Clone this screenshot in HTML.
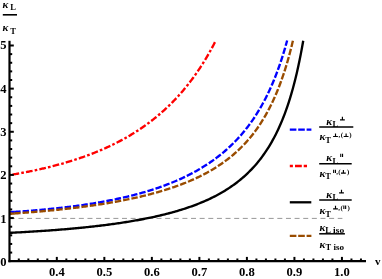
<!DOCTYPE html>
<html><head><meta charset="utf-8"><title>plot</title>
<style>
html,body{margin:0;padding:0;background:#fff;}
body{width:382px;height:279px;overflow:hidden;}
svg{display:block;filter:blur(0.4px);font-family:"Liberation Serif",serif;font-weight:bold;}
.k{font-style:italic;font-size:11px;}
.s{font-size:8.5px;}
.u{font-size:7px;}
</style></head><body>
<svg width="382" height="279" viewBox="0 0 382 279">
<rect width="382" height="279" fill="#fff"/>
<!-- gray reference line -->
<g stroke="#989898" stroke-width="1">
<line x1="9.8" y1="218.4" x2="342.4" y2="218.4" stroke-dasharray="5 3.63"/>
</g>
<!-- curves -->
<g fill="none" stroke-linejoin="round" stroke-width="2.35">
<path d="M9.30,212.24 L10.52,212.16 L11.74,212.08 L12.96,212.01 L14.18,211.93 L15.40,211.84 L16.62,211.76 L17.84,211.68 L19.06,211.59 L20.28,211.51 L21.50,211.42 L22.72,211.33 L23.94,211.24 L25.16,211.15 L26.38,211.06 L27.60,210.96 L28.82,210.87 L30.04,210.77 L31.26,210.67 L32.48,210.57 L33.70,210.47 L34.92,210.37 L36.14,210.26 L37.36,210.16 L38.58,210.05 L39.80,209.94 L41.02,209.83 L42.24,209.72 L43.46,209.61 L44.68,209.50 L45.90,209.38 L47.12,209.26 L48.34,209.14 L49.56,209.02 L50.78,208.90 L52.00,208.77 L53.22,208.65 L54.44,208.52 L55.66,208.39 L56.88,208.26 L58.10,208.12 L59.32,207.99 L60.54,207.85 L61.76,207.71 L62.98,207.57 L64.20,207.43 L65.42,207.29 L66.64,207.14 L67.86,206.99 L69.08,206.84 L70.30,206.69 L71.52,206.53 L72.74,206.37 L73.96,206.21 L75.18,206.05 L76.40,205.89 L77.62,205.72 L78.84,205.56 L80.07,205.38 L81.29,205.21 L82.51,205.04 L83.73,204.86 L84.95,204.68 L86.17,204.50 L87.39,204.31 L88.61,204.12 L89.83,203.93 L91.05,203.74 L92.27,203.55 L93.49,203.35 L94.71,203.15 L95.93,202.94 L97.15,202.74 L98.37,202.53 L99.59,202.32 L100.81,202.10 L102.03,201.88 L103.25,201.66 L104.47,201.44 L105.69,201.21 L106.91,200.98 L108.13,200.75 L109.35,200.51 L110.57,200.27 L111.79,200.03 L113.01,199.78 L114.23,199.53 L115.45,199.28 L116.67,199.02 L117.89,198.76 L119.11,198.50 L120.33,198.23 L121.55,197.96 L122.77,197.69 L123.99,197.41 L125.21,197.12 L126.43,196.84 L127.65,196.55 L128.87,196.25 L130.09,195.95 L131.31,195.65 L132.53,195.34 L133.75,195.03 L134.97,194.72 L136.19,194.39 L137.41,194.07 L138.63,193.74 L139.85,193.41 L141.07,193.07 L142.29,192.72 L143.51,192.37 L144.73,192.02 L145.95,191.66 L147.17,191.30 L148.39,190.93 L149.61,190.55 L150.83,190.17 L152.05,189.78 L153.27,189.39 L154.49,188.99 L155.71,188.59 L156.93,188.18 L158.15,187.77 L159.37,187.35 L160.59,186.92 L161.81,186.48 L163.03,186.04 L164.25,185.60 L165.47,185.14 L166.69,184.68 L167.91,184.21 L169.13,183.74 L170.35,183.26 L171.57,182.77 L172.79,182.27 L174.01,181.76 L175.23,181.25 L176.45,180.73 L177.67,180.20 L178.89,179.66 L180.11,179.12 L181.33,178.56 L182.55,178.00 L183.77,177.43 L184.99,176.85 L186.21,176.25 L187.43,175.65 L188.65,175.04 L189.87,174.42 L191.09,173.79 L192.31,173.15 L193.53,172.50 L194.75,171.83 L195.97,171.16 L197.19,170.47 L198.41,169.77 L199.63,169.06 L200.85,168.34 L202.07,167.61 L203.29,166.86 L204.51,166.10 L205.73,165.32 L206.95,164.53 L208.17,163.73 L209.39,162.91 L210.61,162.08 L211.83,161.23 L213.05,160.37 L214.27,159.49 L215.49,158.59 L216.71,157.68 L217.93,156.75 L219.15,155.80 L220.37,154.83 L221.60,153.84 L222.82,152.83 L224.04,151.81 L225.26,150.76 L226.48,149.69 L227.70,148.60 L228.92,147.48 L230.14,146.35 L231.36,145.18 L232.58,144.00 L233.80,142.78 L235.02,141.54 L236.24,140.28 L237.46,138.98 L238.68,137.66 L239.90,136.30 L241.12,134.92 L242.34,133.50 L243.56,132.05 L244.78,130.56 L246.00,129.04 L247.22,127.48 L248.44,125.88 L249.66,124.24 L250.88,122.56 L252.10,120.83 L253.32,119.06 L254.54,117.25 L255.76,115.38 L256.98,113.46 L258.20,111.49 L259.42,109.47 L260.64,107.39 L261.86,105.24 L263.08,103.04 L264.30,100.76 L265.52,98.42 L266.74,96.01 L267.96,93.52 L269.18,90.95 L270.40,88.30 L271.62,85.55 L272.84,82.72 L274.06,79.79 L275.28,76.76 L276.50,73.62 L277.72,70.36 L278.94,66.99 L280.16,63.49 L281.38,59.85 L282.60,56.07 L283.82,52.13 L285.04,48.04 L286.26,43.77 L287.15,40.55" stroke="#0000ff" stroke-dasharray="6.45 2.0" stroke-dashoffset="3.6"/>
<path d="M9.30,212.24 L10.52,212.16 L11.74,212.08 L12.96,212.01 L14.18,211.93 L15.40,211.84 L16.62,211.76 L17.84,211.68 L19.06,211.59 L20.28,211.51 L21.50,211.42 L22.72,211.33 L23.94,211.24 L25.16,211.15 L26.38,211.06 L27.60,210.96 L28.82,210.87 L30.04,210.77 L31.26,210.67 L32.48,210.57 L33.70,210.47 L34.92,210.37 L36.14,210.26 L37.36,210.16 L38.58,210.05 L39.80,209.94 L41.02,209.83 L42.24,209.72 L43.46,209.61 L44.68,209.50 L45.90,209.38 L47.12,209.26 L48.34,209.14 L49.56,209.02 L50.78,208.90 L52.00,208.77 L53.22,208.65 L54.44,208.52 L55.66,208.39 L56.88,208.26 L58.10,208.12 L59.32,207.99 L60.54,207.85 L61.76,207.71 L62.98,207.57 L64.20,207.43 L65.42,207.29 L66.64,207.14 L67.86,206.99 L69.08,206.84 L70.30,206.69 L71.52,206.53 L72.74,206.37 L73.96,206.21 L75.18,206.05 L76.40,205.89 L77.62,205.72 L78.84,205.56 L80.07,205.38 L81.29,205.21 L82.51,205.04 L83.73,204.86 L84.95,204.68 L86.17,204.50 L87.39,204.31 L88.61,204.12 L89.83,203.93 L91.05,203.74 L92.27,203.55 L93.49,203.35 L94.71,203.15 L95.93,202.94 L97.15,202.74 L98.37,202.53 L99.59,202.32 L100.81,202.10 L102.03,201.88 L103.25,201.66 L104.47,201.44 L105.69,201.21 L106.91,200.98 L108.13,200.75 L109.35,200.51 L110.57,200.27 L111.79,200.03 L113.01,199.78 L114.23,199.53 L115.45,199.28 L116.67,199.02 L117.89,198.76 L119.11,198.50 L120.33,198.23 L121.55,197.96 L122.77,197.69 L123.99,197.41 L125.21,197.12 L126.43,196.84 L127.65,196.55 L128.87,196.25 L130.09,195.95 L131.31,195.65 L132.53,195.34 L133.75,195.03 L134.97,194.72 L136.19,194.39 L137.41,194.07 L138.63,193.74 L139.85,193.41 L141.07,193.07 L142.29,192.72 L143.51,192.37 L144.73,192.02 L145.95,191.66 L147.17,191.30 L148.39,190.93 L149.61,190.55 L150.83,190.17 L152.05,189.78 L153.27,189.39 L154.49,188.99 L155.71,188.59 L156.93,188.18 L158.15,187.77 L159.37,187.35 L160.59,186.92 L161.81,186.48 L163.03,186.04 L164.25,185.60 L165.47,185.14 L166.69,184.68 L167.91,184.21 L169.13,183.74 L170.35,183.26 L171.57,182.77 L172.79,182.27 L174.01,181.76 L175.23,181.25 L176.45,180.73 L177.67,180.20 L178.89,179.66 L180.11,179.12 L181.33,178.56 L182.55,178.00 L183.77,177.43 L184.99,176.85 L186.21,176.25 L187.43,175.65 L188.65,175.04 L189.87,174.42 L191.09,173.79 L192.31,173.15 L193.53,172.50 L194.75,171.83 L195.97,171.16 L197.19,170.47 L198.41,169.77 L199.63,169.06 L200.85,168.34 L202.07,167.61 L203.29,166.86 L204.51,166.10 L205.73,165.32 L206.95,164.53 L208.17,163.73 L209.39,162.91 L210.61,162.08 L211.83,161.23 L213.05,160.37 L214.27,159.49 L215.49,158.59 L216.71,157.68 L217.93,156.75 L219.15,155.80 L220.37,154.83 L221.60,153.84 L222.82,152.83 L224.04,151.81 L225.26,150.76 L226.48,149.69 L227.70,148.60 L228.92,147.48 L230.14,146.35 L231.36,145.18 L232.58,144.00 L233.80,142.78 L235.02,141.54 L236.24,140.28 L237.46,138.98 L238.68,137.66 L239.90,136.30 L241.12,134.92 L242.34,133.50 L243.56,132.05 L244.78,130.56 L246.00,129.04 L247.22,127.48 L248.44,125.88 L249.66,124.24 L250.88,122.56 L252.10,120.83 L253.32,119.06 L254.54,117.25 L255.76,115.38 L256.98,113.46 L258.20,111.49 L259.42,109.47 L260.64,107.39 L261.86,105.24 L263.08,103.04 L264.30,100.76 L265.52,98.42 L266.74,96.01 L267.96,93.52 L269.18,90.95 L270.40,88.30 L271.62,85.55 L272.84,82.72 L274.06,79.79 L275.28,76.76 L276.50,73.62 L277.72,70.36 L278.94,66.99 L280.16,63.49 L281.38,59.85 L282.60,56.07 L283.82,52.13 L285.04,48.04 L286.26,43.77 L287.15,40.55" stroke="#0000ff" stroke-dasharray="5 10000"/>
<path d="M9.30,175.08 L10.19,174.93 L11.07,174.79 L11.96,174.64 L12.85,174.49 L13.74,174.34 L14.62,174.19 L15.51,174.04 L16.40,173.88 L17.29,173.73 L18.17,173.57 L19.06,173.41 L19.95,173.25 L20.84,173.09 L21.72,172.93 L22.61,172.76 L23.50,172.60 L24.38,172.43 L25.27,172.26 L26.16,172.09 L27.05,171.92 L27.93,171.74 L28.82,171.57 L29.71,171.39 L30.60,171.21 L31.48,171.03 L32.37,170.84 L33.26,170.66 L34.15,170.47 L35.03,170.29 L35.92,170.10 L36.81,169.91 L37.69,169.71 L38.58,169.52 L39.47,169.32 L40.36,169.12 L41.24,168.92 L42.13,168.72 L43.02,168.52 L43.91,168.31 L44.79,168.10 L45.68,167.89 L46.57,167.68 L47.46,167.47 L48.34,167.25 L49.23,167.03 L50.12,166.81 L51.00,166.59 L51.89,166.37 L52.78,166.14 L53.67,165.91 L54.55,165.68 L55.44,165.45 L56.33,165.22 L57.22,164.98 L58.10,164.74 L58.99,164.50 L59.88,164.26 L60.77,164.01 L61.65,163.76 L62.54,163.51 L63.43,163.26 L64.31,163.00 L65.20,162.75 L66.09,162.49 L66.98,162.22 L67.86,161.96 L68.75,161.69 L69.64,161.42 L70.53,161.15 L71.41,160.87 L72.30,160.60 L73.19,160.32 L74.08,160.03 L74.96,159.75 L75.85,159.46 L76.74,159.17 L77.62,158.88 L78.51,158.58 L79.40,158.28 L80.29,157.98 L81.17,157.67 L82.06,157.37 L82.95,157.06 L83.84,156.74 L84.72,156.43 L85.61,156.11 L86.50,155.78 L87.39,155.46 L88.27,155.13 L89.16,154.80 L90.05,154.46 L90.93,154.12 L91.82,153.78 L92.71,153.44 L93.60,153.09 L94.48,152.74 L95.37,152.38 L96.26,152.02 L97.15,151.66 L98.03,151.30 L98.92,150.93 L99.81,150.55 L100.70,150.18 L101.58,149.80 L102.47,149.41 L103.36,149.03 L104.24,148.63 L105.13,148.24 L106.02,147.84 L106.91,147.44 L107.79,147.03 L108.68,146.62 L109.57,146.20 L110.46,145.78 L111.34,145.36 L112.23,144.93 L113.12,144.50 L114.01,144.06 L114.89,143.62 L115.78,143.18 L116.67,142.73 L117.55,142.27 L118.44,141.81 L119.33,141.35 L120.22,140.88 L121.10,140.41 L121.99,139.93 L122.88,139.45 L123.77,138.96 L124.65,138.46 L125.54,137.97 L126.43,137.46 L127.32,136.95 L128.20,136.44 L129.09,135.92 L129.98,135.40 L130.87,134.87 L131.75,134.33 L132.64,133.79 L133.53,133.24 L134.41,132.69 L135.30,132.13 L136.19,131.57 L137.08,130.99 L137.96,130.42 L138.85,129.83 L139.74,129.24 L140.63,128.65 L141.51,128.05 L142.40,127.44 L143.29,126.82 L144.18,126.20 L145.06,125.57 L145.95,124.94 L146.84,124.29 L147.72,123.64 L148.61,122.99 L149.50,122.32 L150.39,121.65 L151.27,120.97 L152.16,120.28 L153.05,119.59 L153.94,118.88 L154.82,118.17 L155.71,117.46 L156.60,116.73 L157.49,115.99 L158.37,115.25 L159.26,114.50 L160.15,113.74 L161.03,112.97 L161.92,112.19 L162.81,111.40 L163.70,110.60 L164.58,109.80 L165.47,108.98 L166.36,108.15 L167.25,107.32 L168.13,106.47 L169.02,105.62 L169.91,104.75 L170.80,103.88 L171.68,102.99 L172.57,102.09 L173.46,101.18 L174.34,100.26 L175.23,99.33 L176.12,98.39 L177.01,97.44 L177.89,96.47 L178.78,95.49 L179.67,94.50 L180.56,93.50 L181.44,92.48 L182.33,91.45 L183.22,90.41 L184.11,89.36 L184.99,88.29 L185.88,87.20 L186.77,86.11 L187.65,85.00 L188.54,83.87 L189.43,82.73 L190.32,81.58 L191.20,80.40 L192.09,79.22 L192.98,78.02 L193.87,76.80 L194.75,75.56 L195.64,74.31 L196.53,73.04 L197.42,71.76 L198.30,70.45 L199.19,69.13 L200.08,67.79 L200.96,66.43 L201.85,65.05 L202.74,63.65 L203.63,62.23 L204.51,60.80 L205.40,59.34 L206.29,57.86 L207.18,56.36 L208.06,54.83 L208.95,53.29 L209.84,51.72 L210.73,50.12 L211.61,48.51 L212.50,46.87 L213.39,45.20 L214.27,43.51 L215.16,41.80 L215.83,40.49" stroke="#ff0000" stroke-dasharray="6.7 2.15 2.65 2.15" stroke-dashoffset="10.35"/>
<path d="M9.30,232.85 L10.63,232.79 L11.96,232.72 L13.29,232.65 L14.62,232.58 L15.96,232.51 L17.29,232.45 L18.62,232.37 L19.95,232.30 L21.28,232.23 L22.61,232.16 L23.94,232.08 L25.27,232.01 L26.60,231.93 L27.93,231.85 L29.27,231.77 L30.60,231.69 L31.93,231.61 L33.26,231.53 L34.59,231.45 L35.92,231.36 L37.25,231.28 L38.58,231.19 L39.91,231.10 L41.24,231.02 L42.58,230.93 L43.91,230.84 L45.24,230.74 L46.57,230.65 L47.90,230.56 L49.23,230.46 L50.56,230.36 L51.89,230.26 L53.22,230.16 L54.55,230.06 L55.89,229.96 L57.22,229.86 L58.55,229.75 L59.88,229.65 L61.21,229.54 L62.54,229.43 L63.87,229.32 L65.20,229.21 L66.53,229.09 L67.86,228.98 L69.20,228.86 L70.53,228.74 L71.86,228.62 L73.19,228.50 L74.52,228.38 L75.85,228.26 L77.18,228.13 L78.51,228.00 L79.84,227.87 L81.17,227.74 L82.51,227.61 L83.84,227.47 L85.17,227.34 L86.50,227.20 L87.83,227.06 L89.16,226.92 L90.49,226.77 L91.82,226.62 L93.15,226.48 L94.48,226.33 L95.82,226.17 L97.15,226.02 L98.48,225.86 L99.81,225.71 L101.14,225.54 L102.47,225.38 L103.80,225.22 L105.13,225.05 L106.46,224.88 L107.79,224.71 L109.13,224.53 L110.46,224.35 L111.79,224.17 L113.12,223.99 L114.45,223.81 L115.78,223.62 L117.11,223.43 L118.44,223.24 L119.77,223.04 L121.10,222.84 L122.44,222.64 L123.77,222.44 L125.10,222.23 L126.43,222.02 L127.76,221.81 L129.09,221.59 L130.42,221.37 L131.75,221.15 L133.08,220.92 L134.41,220.69 L135.75,220.46 L137.08,220.22 L138.41,219.98 L139.74,219.73 L141.07,219.49 L142.40,219.23 L143.73,218.98 L145.06,218.72 L146.39,218.46 L147.72,218.19 L149.06,217.92 L150.39,217.64 L151.72,217.36 L153.05,217.07 L154.38,216.78 L155.71,216.49 L157.04,216.19 L158.37,215.88 L159.70,215.57 L161.03,215.26 L162.37,214.94 L163.70,214.61 L165.03,214.28 L166.36,213.95 L167.69,213.60 L169.02,213.26 L170.35,212.90 L171.68,212.54 L173.01,212.18 L174.34,211.80 L175.68,211.42 L177.01,211.04 L178.34,210.64 L179.67,210.24 L181.00,209.83 L182.33,209.42 L183.66,209.00 L184.99,208.57 L186.32,208.13 L187.65,207.68 L188.99,207.22 L190.32,206.76 L191.65,206.29 L192.98,205.81 L194.31,205.31 L195.64,204.81 L196.97,204.30 L198.30,203.78 L199.63,203.25 L200.96,202.70 L202.30,202.15 L203.63,201.58 L204.96,201.01 L206.29,200.42 L207.62,199.82 L208.95,199.20 L210.28,198.57 L211.61,197.93 L212.94,197.28 L214.27,196.61 L215.61,195.92 L216.94,195.22 L218.27,194.50 L219.60,193.77 L220.93,193.02 L222.26,192.25 L223.59,191.47 L224.92,190.66 L226.25,189.84 L227.58,188.99 L228.92,188.13 L230.25,187.24 L231.58,186.33 L232.91,185.40 L234.24,184.44 L235.57,183.46 L236.90,182.45 L238.23,181.42 L239.56,180.35 L240.89,179.26 L242.23,178.14 L243.56,176.99 L244.89,175.80 L246.22,174.58 L247.55,173.32 L248.88,172.03 L250.21,170.70 L251.54,169.33 L252.87,167.91 L254.20,166.45 L255.54,164.95 L256.87,163.39 L258.20,161.79 L259.53,160.13 L260.86,158.42 L262.19,156.65 L263.52,154.81 L264.85,152.91 L266.18,150.95 L267.51,148.91 L268.85,146.79 L270.18,144.60 L271.51,142.32 L272.84,139.95 L274.17,137.49 L275.50,134.92 L276.83,132.25 L278.16,129.47 L279.49,126.56 L280.82,123.53 L282.16,120.36 L283.49,117.04 L284.82,113.57 L286.15,109.93 L287.48,106.11 L288.81,102.09 L290.14,97.87 L291.47,93.42 L292.80,88.73 L294.13,83.77 L295.47,78.53 L296.80,72.98 L298.13,67.08 L299.46,60.82 L300.79,54.14 L302.12,47.02 L303.23,40.71" stroke="#000"/>
<path d="M9.30,213.79 L10.52,213.71 L11.74,213.63 L12.96,213.55 L14.18,213.46 L15.40,213.38 L16.62,213.29 L17.84,213.21 L19.06,213.12 L20.28,213.03 L21.50,212.94 L22.72,212.85 L23.94,212.76 L25.16,212.67 L26.38,212.57 L27.60,212.48 L28.82,212.38 L30.04,212.28 L31.26,212.18 L32.48,212.09 L33.70,211.98 L34.92,211.88 L36.14,211.78 L37.36,211.68 L38.58,211.57 L39.80,211.46 L41.02,211.36 L42.24,211.25 L43.46,211.14 L44.68,211.02 L45.90,210.91 L47.12,210.80 L48.34,210.68 L49.56,210.57 L50.78,210.45 L52.00,210.33 L53.22,210.21 L54.44,210.08 L55.66,209.96 L56.88,209.84 L58.10,209.71 L59.32,209.58 L60.54,209.45 L61.76,209.32 L62.98,209.19 L64.20,209.06 L65.42,208.92 L66.64,208.78 L67.86,208.65 L69.08,208.51 L70.30,208.36 L71.52,208.22 L72.74,208.08 L73.96,207.93 L75.18,207.78 L76.40,207.63 L77.62,207.48 L78.84,207.33 L80.07,207.17 L81.29,207.02 L82.51,206.86 L83.73,206.70 L84.95,206.53 L86.17,206.37 L87.39,206.20 L88.61,206.03 L89.83,205.86 L91.05,205.69 L92.27,205.52 L93.49,205.34 L94.71,205.16 L95.93,204.98 L97.15,204.80 L98.37,204.62 L99.59,204.43 L100.81,204.24 L102.03,204.05 L103.25,203.86 L104.47,203.66 L105.69,203.46 L106.91,203.26 L108.13,203.06 L109.35,202.85 L110.57,202.64 L111.79,202.43 L113.01,202.22 L114.23,202.00 L115.45,201.78 L116.67,201.56 L117.89,201.34 L119.11,201.11 L120.33,200.88 L121.55,200.65 L122.77,200.42 L123.99,200.18 L125.21,199.94 L126.43,199.69 L127.65,199.44 L128.87,199.19 L130.09,198.94 L131.31,198.68 L132.53,198.42 L133.75,198.16 L134.97,197.89 L136.19,197.62 L137.41,197.34 L138.63,197.06 L139.85,196.78 L141.07,196.50 L142.29,196.21 L143.51,195.91 L144.73,195.62 L145.95,195.31 L147.17,195.01 L148.39,194.70 L149.61,194.38 L150.83,194.07 L152.05,193.74 L153.27,193.42 L154.49,193.08 L155.71,192.75 L156.93,192.41 L158.15,192.06 L159.37,191.71 L160.59,191.35 L161.81,190.99 L163.03,190.62 L164.25,190.25 L165.47,189.87 L166.69,189.49 L167.91,189.10 L169.13,188.70 L170.35,188.30 L171.57,187.90 L172.79,187.48 L174.01,187.06 L175.23,186.64 L176.45,186.20 L177.67,185.76 L178.89,185.32 L180.11,184.86 L181.33,184.40 L182.55,183.93 L183.77,183.46 L184.99,182.97 L186.21,182.48 L187.43,181.98 L188.65,181.47 L189.87,180.96 L191.09,180.43 L192.31,179.90 L193.53,179.35 L194.75,178.80 L195.97,178.24 L197.19,177.66 L198.41,177.08 L199.63,176.49 L200.85,175.88 L202.07,175.27 L203.29,174.64 L204.51,174.01 L205.73,173.36 L206.95,172.70 L208.17,172.02 L209.39,171.33 L210.61,170.64 L211.83,169.92 L213.05,169.19 L214.27,168.45 L215.49,167.70 L216.71,166.93 L217.93,166.14 L219.15,165.34 L220.37,164.52 L221.60,163.68 L222.82,162.82 L224.04,161.95 L225.26,161.06 L226.48,160.15 L227.70,159.22 L228.92,158.27 L230.14,157.30 L231.36,156.30 L232.58,155.29 L233.80,154.25 L235.02,153.18 L236.24,152.10 L237.46,150.98 L238.68,149.84 L239.90,148.67 L241.12,147.47 L242.34,146.24 L243.56,144.98 L244.78,143.69 L246.00,142.37 L247.22,141.01 L248.44,139.62 L249.66,138.18 L250.88,136.71 L252.10,135.20 L253.32,133.65 L254.54,132.05 L255.76,130.41 L256.98,128.71 L258.20,126.97 L259.42,125.18 L260.64,123.33 L261.86,121.43 L263.08,119.46 L264.30,117.44 L265.52,115.35 L266.74,113.19 L267.96,110.96 L269.18,108.65 L270.40,106.26 L271.62,103.79 L272.84,101.24 L274.06,98.59 L275.28,95.84 L276.50,92.99 L277.72,90.03 L278.94,86.95 L280.16,83.75 L281.38,80.43 L282.60,76.96 L283.82,73.35 L285.04,69.59 L286.26,65.66 L287.48,61.55 L288.70,57.25 L289.92,52.75 L291.14,48.03 L292.36,43.08 L292.91,40.75" stroke="#994c00" stroke-dasharray="6.45 2.0" stroke-dashoffset="3.6"/>
<path d="M9.30,213.79 L10.52,213.71 L11.74,213.63 L12.96,213.55 L14.18,213.46 L15.40,213.38 L16.62,213.29 L17.84,213.21 L19.06,213.12 L20.28,213.03 L21.50,212.94 L22.72,212.85 L23.94,212.76 L25.16,212.67 L26.38,212.57 L27.60,212.48 L28.82,212.38 L30.04,212.28 L31.26,212.18 L32.48,212.09 L33.70,211.98 L34.92,211.88 L36.14,211.78 L37.36,211.68 L38.58,211.57 L39.80,211.46 L41.02,211.36 L42.24,211.25 L43.46,211.14 L44.68,211.02 L45.90,210.91 L47.12,210.80 L48.34,210.68 L49.56,210.57 L50.78,210.45 L52.00,210.33 L53.22,210.21 L54.44,210.08 L55.66,209.96 L56.88,209.84 L58.10,209.71 L59.32,209.58 L60.54,209.45 L61.76,209.32 L62.98,209.19 L64.20,209.06 L65.42,208.92 L66.64,208.78 L67.86,208.65 L69.08,208.51 L70.30,208.36 L71.52,208.22 L72.74,208.08 L73.96,207.93 L75.18,207.78 L76.40,207.63 L77.62,207.48 L78.84,207.33 L80.07,207.17 L81.29,207.02 L82.51,206.86 L83.73,206.70 L84.95,206.53 L86.17,206.37 L87.39,206.20 L88.61,206.03 L89.83,205.86 L91.05,205.69 L92.27,205.52 L93.49,205.34 L94.71,205.16 L95.93,204.98 L97.15,204.80 L98.37,204.62 L99.59,204.43 L100.81,204.24 L102.03,204.05 L103.25,203.86 L104.47,203.66 L105.69,203.46 L106.91,203.26 L108.13,203.06 L109.35,202.85 L110.57,202.64 L111.79,202.43 L113.01,202.22 L114.23,202.00 L115.45,201.78 L116.67,201.56 L117.89,201.34 L119.11,201.11 L120.33,200.88 L121.55,200.65 L122.77,200.42 L123.99,200.18 L125.21,199.94 L126.43,199.69 L127.65,199.44 L128.87,199.19 L130.09,198.94 L131.31,198.68 L132.53,198.42 L133.75,198.16 L134.97,197.89 L136.19,197.62 L137.41,197.34 L138.63,197.06 L139.85,196.78 L141.07,196.50 L142.29,196.21 L143.51,195.91 L144.73,195.62 L145.95,195.31 L147.17,195.01 L148.39,194.70 L149.61,194.38 L150.83,194.07 L152.05,193.74 L153.27,193.42 L154.49,193.08 L155.71,192.75 L156.93,192.41 L158.15,192.06 L159.37,191.71 L160.59,191.35 L161.81,190.99 L163.03,190.62 L164.25,190.25 L165.47,189.87 L166.69,189.49 L167.91,189.10 L169.13,188.70 L170.35,188.30 L171.57,187.90 L172.79,187.48 L174.01,187.06 L175.23,186.64 L176.45,186.20 L177.67,185.76 L178.89,185.32 L180.11,184.86 L181.33,184.40 L182.55,183.93 L183.77,183.46 L184.99,182.97 L186.21,182.48 L187.43,181.98 L188.65,181.47 L189.87,180.96 L191.09,180.43 L192.31,179.90 L193.53,179.35 L194.75,178.80 L195.97,178.24 L197.19,177.66 L198.41,177.08 L199.63,176.49 L200.85,175.88 L202.07,175.27 L203.29,174.64 L204.51,174.01 L205.73,173.36 L206.95,172.70 L208.17,172.02 L209.39,171.33 L210.61,170.64 L211.83,169.92 L213.05,169.19 L214.27,168.45 L215.49,167.70 L216.71,166.93 L217.93,166.14 L219.15,165.34 L220.37,164.52 L221.60,163.68 L222.82,162.82 L224.04,161.95 L225.26,161.06 L226.48,160.15 L227.70,159.22 L228.92,158.27 L230.14,157.30 L231.36,156.30 L232.58,155.29 L233.80,154.25 L235.02,153.18 L236.24,152.10 L237.46,150.98 L238.68,149.84 L239.90,148.67 L241.12,147.47 L242.34,146.24 L243.56,144.98 L244.78,143.69 L246.00,142.37 L247.22,141.01 L248.44,139.62 L249.66,138.18 L250.88,136.71 L252.10,135.20 L253.32,133.65 L254.54,132.05 L255.76,130.41 L256.98,128.71 L258.20,126.97 L259.42,125.18 L260.64,123.33 L261.86,121.43 L263.08,119.46 L264.30,117.44 L265.52,115.35 L266.74,113.19 L267.96,110.96 L269.18,108.65 L270.40,106.26 L271.62,103.79 L272.84,101.24 L274.06,98.59 L275.28,95.84 L276.50,92.99 L277.72,90.03 L278.94,86.95 L280.16,83.75 L281.38,80.43 L282.60,76.96 L283.82,73.35 L285.04,69.59 L286.26,65.66 L287.48,61.55 L288.70,57.25 L289.92,52.75 L291.14,48.03 L292.36,43.08 L292.91,40.75" stroke="#994c00" stroke-dasharray="5 10000"/>
</g>
<!-- axes -->
<g stroke="#000" stroke-width="2.2">
<line x1="8.4" y1="261.2" x2="366" y2="261.2"/>
<line x1="9.5" y1="262.2" x2="9.5" y2="40.8"/>
</g>
<g stroke="#000" stroke-width="2">
<line x1="18.80" y1="261.2" x2="18.80" y2="258.50"/><line x1="28.31" y1="261.2" x2="28.31" y2="258.50"/><line x1="37.81" y1="261.2" x2="37.81" y2="258.50"/><line x1="47.32" y1="261.2" x2="47.32" y2="258.50"/><line x1="56.82" y1="261.2" x2="56.82" y2="256.90"/><line x1="66.32" y1="261.2" x2="66.32" y2="258.50"/><line x1="75.83" y1="261.2" x2="75.83" y2="258.50"/><line x1="85.33" y1="261.2" x2="85.33" y2="258.50"/><line x1="94.84" y1="261.2" x2="94.84" y2="258.50"/><line x1="104.34" y1="261.2" x2="104.34" y2="256.90"/><line x1="113.84" y1="261.2" x2="113.84" y2="258.50"/><line x1="123.35" y1="261.2" x2="123.35" y2="258.50"/><line x1="132.85" y1="261.2" x2="132.85" y2="258.50"/><line x1="142.36" y1="261.2" x2="142.36" y2="258.50"/><line x1="151.86" y1="261.2" x2="151.86" y2="256.90"/><line x1="161.36" y1="261.2" x2="161.36" y2="258.50"/><line x1="170.87" y1="261.2" x2="170.87" y2="258.50"/><line x1="180.37" y1="261.2" x2="180.37" y2="258.50"/><line x1="189.88" y1="261.2" x2="189.88" y2="258.50"/><line x1="199.38" y1="261.2" x2="199.38" y2="256.90"/><line x1="208.88" y1="261.2" x2="208.88" y2="258.50"/><line x1="218.39" y1="261.2" x2="218.39" y2="258.50"/><line x1="227.89" y1="261.2" x2="227.89" y2="258.50"/><line x1="237.40" y1="261.2" x2="237.40" y2="258.50"/><line x1="246.90" y1="261.2" x2="246.90" y2="256.90"/><line x1="256.40" y1="261.2" x2="256.40" y2="258.50"/><line x1="265.91" y1="261.2" x2="265.91" y2="258.50"/><line x1="275.41" y1="261.2" x2="275.41" y2="258.50"/><line x1="284.92" y1="261.2" x2="284.92" y2="258.50"/><line x1="294.42" y1="261.2" x2="294.42" y2="256.90"/><line x1="303.92" y1="261.2" x2="303.92" y2="258.50"/><line x1="313.43" y1="261.2" x2="313.43" y2="258.50"/><line x1="322.93" y1="261.2" x2="322.93" y2="258.50"/><line x1="332.44" y1="261.2" x2="332.44" y2="258.50"/><line x1="341.94" y1="261.2" x2="341.94" y2="256.90"/><line x1="351.44" y1="261.2" x2="351.44" y2="258.50"/><line x1="360.95" y1="261.2" x2="360.95" y2="258.50"/><line x1="9.5" y1="252.57" x2="12.20" y2="252.57"/><line x1="9.5" y1="243.94" x2="12.20" y2="243.94"/><line x1="9.5" y1="235.32" x2="12.20" y2="235.32"/><line x1="9.5" y1="226.69" x2="12.20" y2="226.69"/><line x1="9.5" y1="218.06" x2="13.80" y2="218.06"/><line x1="9.5" y1="209.43" x2="12.20" y2="209.43"/><line x1="9.5" y1="200.80" x2="12.20" y2="200.80"/><line x1="9.5" y1="192.18" x2="12.20" y2="192.18"/><line x1="9.5" y1="183.55" x2="12.20" y2="183.55"/><line x1="9.5" y1="174.92" x2="13.80" y2="174.92"/><line x1="9.5" y1="166.29" x2="12.20" y2="166.29"/><line x1="9.5" y1="157.66" x2="12.20" y2="157.66"/><line x1="9.5" y1="149.04" x2="12.20" y2="149.04"/><line x1="9.5" y1="140.41" x2="12.20" y2="140.41"/><line x1="9.5" y1="131.78" x2="13.80" y2="131.78"/><line x1="9.5" y1="123.15" x2="12.20" y2="123.15"/><line x1="9.5" y1="114.52" x2="12.20" y2="114.52"/><line x1="9.5" y1="105.90" x2="12.20" y2="105.90"/><line x1="9.5" y1="97.27" x2="12.20" y2="97.27"/><line x1="9.5" y1="88.64" x2="13.80" y2="88.64"/><line x1="9.5" y1="80.01" x2="12.20" y2="80.01"/><line x1="9.5" y1="71.38" x2="12.20" y2="71.38"/><line x1="9.5" y1="62.76" x2="12.20" y2="62.76"/><line x1="9.5" y1="54.13" x2="12.20" y2="54.13"/><line x1="9.5" y1="45.50" x2="13.80" y2="45.50"/>
</g>
<g font-size="12.6px" fill="#000">
<text x="56.82" y="276.0" text-anchor="middle">0.4</text><text x="104.34" y="276.0" text-anchor="middle">0.5</text><text x="151.86" y="276.0" text-anchor="middle">0.6</text><text x="199.38" y="276.0" text-anchor="middle">0.7</text><text x="246.90" y="276.0" text-anchor="middle">0.8</text><text x="294.42" y="276.0" text-anchor="middle">0.9</text><text x="341.94" y="276.0" text-anchor="middle">1.0</text>
<text x="6.6" y="265.90" text-anchor="end">0</text><text x="6.6" y="222.60" text-anchor="end">1</text><text x="6.6" y="179.30" text-anchor="end">2</text><text x="6.6" y="136.00" text-anchor="end">3</text><text x="6.6" y="92.70" text-anchor="end">4</text><text x="6.6" y="49.40" text-anchor="end">5</text>
</g>
<!-- axis labels -->
<text x="375" y="265.4" font-size="11px">v</text>
<g fill="#000">
<text x="2.40" y="7.90" class="k">κ</text><text x="10.20" y="9.90" class="s">L</text>
<line x1="2.8" y1="14.8" x2="17" y2="14.8" stroke="#000" stroke-width="1.6"/>
<text x="2.40" y="31.30" class="k">κ</text><text x="10.20" y="33.60" class="s">T</text>
</g>
<!-- legend -->
<g fill="none" stroke-width="2.3">
<line x1="289.8" y1="129.6" x2="311.4" y2="129.6" stroke="#0000ff" stroke-dasharray="6.6 1.8"/>
<line x1="289.8" y1="166" x2="307" y2="166" stroke="#ff0000" stroke-dasharray="3.1 2.1 6.8 1.9 3.3 20"/>
<line x1="289.8" y1="202.3" x2="311.3" y2="202.3" stroke="#000"/>
<line x1="289.8" y1="235.9" x2="311.4" y2="235.9" stroke="#994c00" stroke-dasharray="6.6 1.8"/>
</g>
<g fill="#000">
<line x1="319.2" y1="127.1" x2="353.3" y2="127.1" stroke="#000" stroke-width="1.5"/><text x="326.30" y="124.60" class="k">κ</text><text x="332.40" y="126.80" class="s">L</text><path d="M340.00,119.80h4.8M342.40,119.80v-3.1" stroke="#000" stroke-width="1.15" fill="none"/><text x="319.40" y="139.90" class="k">κ</text><text x="325.20" y="142.80" class="s">T</text><path d="M333.10,136.50h4.8M335.50,136.50v-3.1" stroke="#000" stroke-width="1.15" fill="none"/><text x="338.50" y="137.40" class="u">,</text><text x="340.80" y="137.40" class="u">(</text><path d="M343.70,136.50h4.8M346.10,136.50v-3.1" stroke="#000" stroke-width="1.15" fill="none"/><text x="349.30" y="137.40" class="u">)</text><line x1="319.2" y1="163.8" x2="351.7" y2="163.8" stroke="#000" stroke-width="1.5"/><text x="326.30" y="161.20" class="k">κ</text><text x="332.40" y="163.60" class="s">L</text><path d="M340.75,157.00v-3.3M342.55,157.00v-3.3" stroke="#000" stroke-width="1.1" fill="none"/><text x="319.40" y="176.60" class="k">κ</text><text x="325.20" y="179.40" class="s">T</text><path d="M333.65,173.10v-3.3M335.45,173.10v-3.3" stroke="#000" stroke-width="1.1" fill="none"/><text x="336.30" y="174.10" class="u">,</text><text x="338.30" y="174.10" class="u">(</text><path d="M341.00,173.10h4.8M343.40,173.10v-3.1" stroke="#000" stroke-width="1.15" fill="none"/><text x="347.00" y="174.10" class="u">)</text><line x1="319.2" y1="199.9" x2="351.7" y2="199.9" stroke="#000" stroke-width="1.5"/><text x="326.30" y="197.50" class="k">κ</text><text x="332.40" y="199.90" class="s">L</text><path d="M339.10,192.90h4.8M341.50,192.90v-3.1" stroke="#000" stroke-width="1.15" fill="none"/><text x="319.40" y="213.90" class="k">κ</text><text x="325.20" y="216.50" class="s">T</text><path d="M333.10,208.90h4.8M335.50,208.90v-3.1" stroke="#000" stroke-width="1.15" fill="none"/><text x="338.30" y="209.90" class="u">,</text><text x="340.40" y="209.90" class="u">(</text><path d="M343.85,208.90v-3.3M345.65,208.90v-3.3" stroke="#000" stroke-width="1.1" fill="none"/><text x="347.40" y="209.90" class="u">)</text><line x1="319.2" y1="233.8" x2="344.9" y2="233.8" stroke="#000" stroke-width="1.5"/><text x="319.40" y="230.70" class="k">κ</text><text x="325.20" y="233.00" class="s">L</text><text x="333.1" y="233.00" class="s" textLength="11" lengthAdjust="spacingAndGlyphs">iso</text><text x="319.40" y="247.60" class="k">κ</text><text x="325.40" y="250.20" class="s">T</text><text x="333.4" y="250.20" class="s" textLength="10.6" lengthAdjust="spacingAndGlyphs">iso</text>
</g>
</svg>
</body></html>
